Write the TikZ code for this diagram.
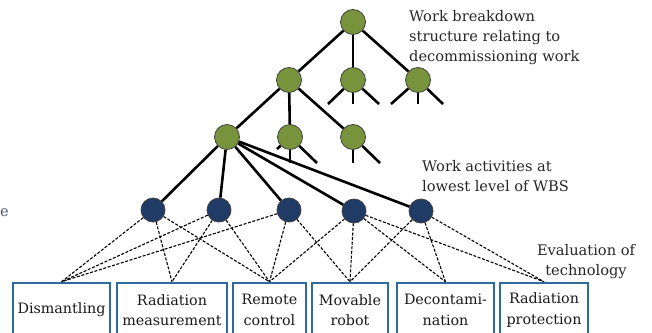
\documentclass[tikz,border=0pt]{standalone}
\usepackage{fontspec}
\setmainfont{DejaVu Serif}
\usetikzlibrary{positioning}
\definecolor{wbsgreen}{HTML}{77933C}
\definecolor{actblue}{HTML}{1F3B66}
\definecolor{boxblue}{HTML}{2E6A9E}
\definecolor{cutgrey}{HTML}{4A5A72}

\begin{document}
\begin{tikzpicture}[x=1pt, y=-1pt,
	wbs/.style={circle, draw=black!75, fill=wbsgreen, line width=0.8pt, minimum size=25pt, inner sep=0pt},
	act/.style={circle, draw=black!75, fill=actblue, line width=0.8pt, minimum size=24pt, inner sep=0pt},
	tech/.style={draw=boxblue, line width=2.5pt, minimum height=54pt, align=center, inner sep=1pt, text=black!90, font=\fontsize{14.3}{20.5}\selectfont},
	branch/.style={line width=2.6pt},
	link/.style={line width=1.1pt, dash pattern=on 3pt off 1.6pt},
	note/.style={align=left, inner sep=0pt, text=black!85, font=\fontsize{14.6}{20}\selectfont}]

	\useasboundingbox (0,0) rectangle (652,332);
	\clip (0,0) rectangle (652,332);

	% work breakdown structure
	\node[wbs] (top) at (353,22) {};
	\node[wbs] (a) at (289,80) {};
	\node[wbs] (b) at (353,80) {};
	\node[wbs] (c) at (418,80) {};
	\node[wbs] (d) at (227,137) {};
	\node[wbs] (e) at (290,137) {};
	\node[wbs] (f) at (353,137) {};

	% lowest level activities
	\node[act] (n1) at (153,210) {};
	\node[act] (n2) at (219,210) {};
	\node[act] (n3) at (289,210) {};
	\node[act] (n4) at (354,211) {};
	\node[act] (n5) at (421,211) {};

	% technologies
	\node[tech, minimum width=97pt] (dis) at (61.5,310) {Dismantling};
	\node[tech, minimum width=110pt] (rad) at (172,310) {Radiation\\measurement};
	\node[tech, minimum width=73pt] (rem) at (269.5,310) {Remote\\control};
	\node[tech, minimum width=76pt] (mov) at (350,310) {Movable\\robot};
	\node[tech, minimum width=97pt] (dec) at (445.5,310) {Decontami-\\nation};
	\node[tech, minimum width=88pt] (pro) at (544,310) {Radiation\\protection};

	% stub ends of the unexpanded branches
	\coordinate (b1) at (328,104);
	\coordinate (b2) at (353,104);
	\coordinate (b3) at (379,104);
	\coordinate (c1) at (391,104);
	\coordinate (c2) at (418,104);
	\coordinate (c3) at (443,104);
	\coordinate (e1) at (277,149);
	\coordinate (e2) at (290,163);
	\coordinate (e3) at (317,163);
	\coordinate (f2) at (353,163);
	\coordinate (f3) at (380,163);

	\draw[branch] (top) -- (a);
	\draw[branch] (top) -- (b);
	\draw[branch] (top) -- (c);
	\draw[branch] (a) -- (d);
	\draw[branch] (a) -- (e);
	\draw[branch] (a) -- (f);
	\foreach \s in {b1,b2,b3} \draw[branch] (b) -- (\s);
	\foreach \s in {c1,c2,c3} \draw[branch] (c) -- (\s);
	\foreach \s in {e1,e2,e3} \draw[branch] (e) -- (\s);
	\foreach \s in {f2,f3} \draw[branch] (f) -- (\s);
	\foreach \n in {n1,n2,n3,n4,n5} \draw[branch] (d) -- (\n);

	% evaluation links
	\foreach \t in {dis,rad,rem} \draw[link] (n1) -- (\t.north);
	\foreach \t in {dis,rad,rem} \draw[link] (n2) -- (\t.north);
	\foreach \t in {dis,rem,mov} \draw[link] (n3) -- (\t.north);
	\foreach \t in {rem,mov,dec,pro} \draw[link] (n4) -- (\t.north);
	\foreach \t in {mov,dec,pro} \draw[link] (n5) -- (\t.north);

	% labels
	\node[note, anchor=north west] (wbslabel) at (409,10) {Work breakdown\\structure relating to\\decommissioning work};
	\node[note, anchor=north west] (actlabel) at (422,160) {Work activities at\\lowest level of WBS};
	\node[note, align=center] (techlabel) at (586,262) {Evaluation of\\technology};
	\node[note, anchor=east, text=cutgrey] (cut) at (9,213) {ce};
\end{tikzpicture}
\end{document}
